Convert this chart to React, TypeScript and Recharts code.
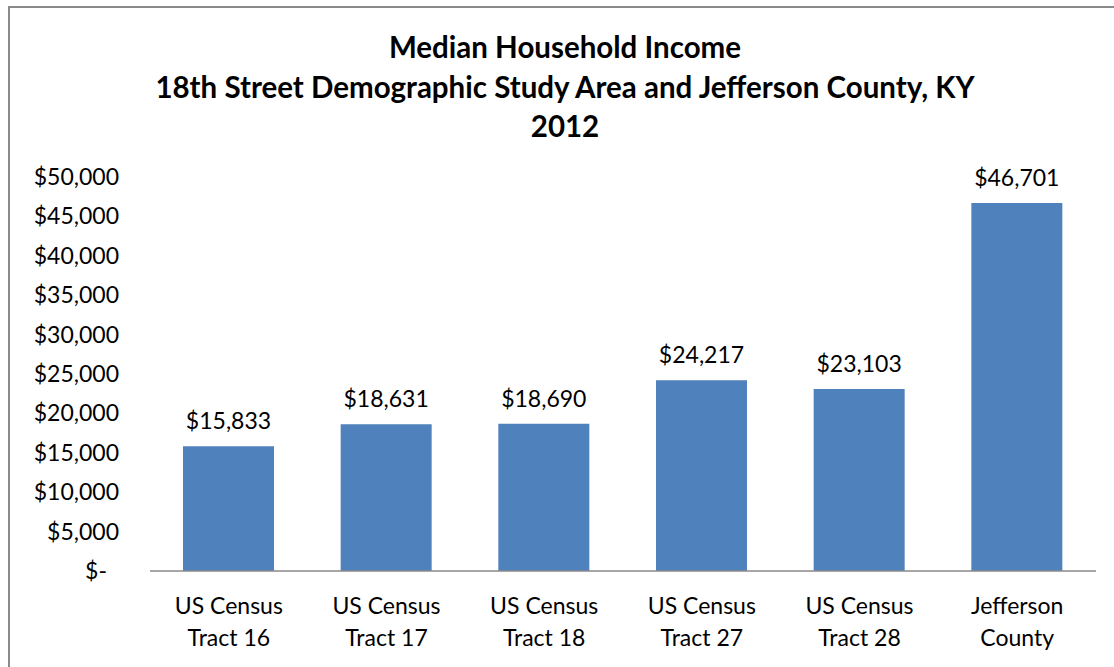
import React from "react";
import { BarChart, Bar, XAxis, YAxis, LabelList } from "recharts";

const categories = [
  "US Census|Tract 16",
  "US Census|Tract 17",
  "US Census|Tract 18",
  "US Census|Tract 27",
  "US Census|Tract 28",
  "Jefferson|County",
];
const incomes = [15833, 18631, 18690, 24217, 23103, 46701];
const yTicks = [0, 5000, 10000, 15000, 20000, 25000, 30000, 35000, 40000, 45000, 50000];
const titleLines = [
  "Median Household Income",
  "18th Street Demographic Study Area and Jefferson County, KY",
  "2012",
];

const data = categories.map((c, i) => ({ name: c, value: incomes[i] }));

const FONT = "Lato, 'Open Sans', sans-serif";
const TICK_SIZE = 23;

const fmt = (v: number) =>
  v === 0 ? "$-" : "$" + v.toLocaleString("en-US");

const XTick = (props: any) => {
  const { x, y, payload } = props;
  const parts = String(payload.value).split("|");
  return (
    <g>
      <text x={x} y={y + 43} textAnchor="middle" fontFamily={FONT} fontSize={TICK_SIZE} fill="#000">
        {parts[0]}
      </text>
      <text x={x} y={y + 75} textAnchor="middle" fontFamily={FONT} fontSize={TICK_SIZE} fill="#000">
        {parts[1]}
      </text>
    </g>
  );
};

const YTick = (props: any) => {
  const { x, y, payload } = props;
  const v = payload.value as number;
  return (
    <text
      x={v === 0 ? x - 43 : x - 31}
      y={y + 8}
      textAnchor="end"
      fontFamily={FONT}
      fontSize={TICK_SIZE}
      fill="#000"
    >
      {fmt(v)}
    </text>
  );
};

export default function App() {
  return (
    <div
      style={{
        position: "fixed",
        left: 8,
        top: 6,
        width: 1106,
        height: 661,
        overflow: "hidden",
        background: "#fff",
      }}
    >
      <div style={{ position: "relative", width: 1114, height: 700 }}>
        <div
          style={{
            position: "absolute",
            left: 0,
            top: 0,
            width: 1114,
            height: 700,
            boxSizing: "border-box",
            border: "2px solid #8a8a8a",
          }}
        />
        <div
          style={{
            position: "absolute",
            left: 0,
            top: 21,
            width: 1114,
            textAlign: "center",
            fontFamily: FONT,
            fontWeight: 700,
            fontSize: 29.5,
            lineHeight: "39.5px",
            color: "#000",
          }}
        >
          {titleLines.map((t, i) => (
            <div key={i}>{t}</div>
          ))}
        </div>
        <div style={{ position: "absolute", left: 0, top: 0 }}>
          <BarChart
            width={1114}
            height={700}
            data={data}
            margin={{ top: 171, right: 26, left: 0, bottom: 55 }}
          >
            <XAxis
              dataKey="name"
              height={80}
              tickLine={false}
              tickSize={0}
              tickMargin={0}
              axisLine={{ stroke: "#8a8a8a", strokeWidth: 1.5 }}
              tick={<XTick />}
              interval={0}
            />
            <YAxis
              width={142}
              domain={[0, 50000]}
              ticks={yTicks}
              axisLine={false}
              tickLine={false}
              tickSize={0}
              tickMargin={0}
              tick={<YTick />}
              interval={0}
            />
            <Bar dataKey="value" fill="#4F81BD" barSize={91} isAnimationActive={false}>
              <LabelList
                dataKey="value"
                position="top"
                offset={17}
                formatter={(v: any) => fmt(Number(v))}
                style={{ fontFamily: FONT, fontSize: TICK_SIZE, fill: "#000" }}
              />
            </Bar>
          </BarChart>
        </div>
      </div>
    </div>
  );
}
